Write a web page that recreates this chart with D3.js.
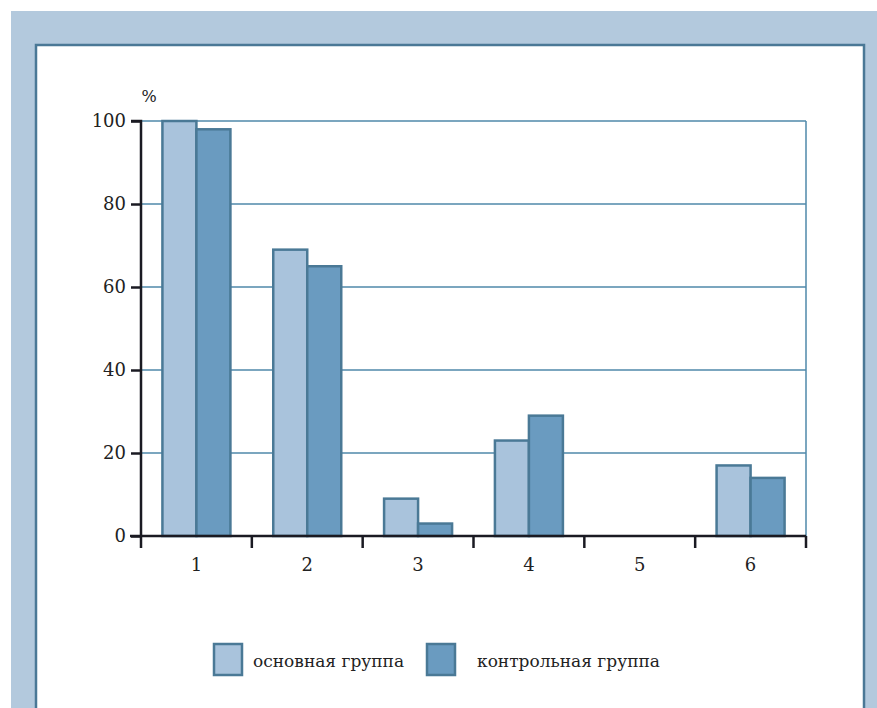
<!DOCTYPE html>
<html><head><meta charset="utf-8">
<script src="https://cdn.jsdelivr.net/npm/d3@7"></script>
<style>body{margin:0;background:#fff}svg{display:block}</style>
</head><body>
<script>
const categories = ["1","2","3","4","5","6"];
const seriesNames = ["основная группа","контрольная группа"];
const mainGroup = [100, 69, 9, 23, 0, 17];
const controlGroup = [98, 65, 3, 29, 0, 14];
const yTicks = [0,20,40,60,80,100];
const unitLabel = "%";

(function(){
const W=877,H=708;
const svg=d3.select("body").append("svg").attr("width",W).attr("height",H);
const font="DejaVu Serif";
const colLight="#a9c3dc", colDark="#6a9bc0", stroke="#4a7996", grid="#4f89aa";

svg.append("rect").attr("x",11).attr("y",11).attr("width",W-11).attr("height",H-11).attr("fill","#b3c9dd");
svg.append("rect").attr("x",36).attr("y",45).attr("width",828).attr("height",H).attr("fill","#fff").attr("stroke","#4a7896").attr("stroke-width",2.5);

const pL=141,pR=806,pT=121,pB=536;
const y=d3.scaleLinear().domain([0,100]).range([pB,pT]);
const x0=d3.scaleBand().domain(categories).range([pL,pR]).padding(0);
const x1=d3.scaleBand().domain(seriesNames).range([0,x0.bandwidth()]).paddingInner(0).paddingOuter(0.63);

// grid
svg.append("g").selectAll("line").data(yTicks.filter(d=>d>0)).join("line")
 .attr("x1",pL).attr("x2",pR).attr("y1",d=>y(d)).attr("y2",d=>y(d))
 .attr("stroke",grid).attr("stroke-width",1.5);
svg.append("line").attr("x1",pR).attr("x2",pR).attr("y1",y(100)).attr("y2",y(0)).attr("stroke",grid).attr("stroke-width",1.5);

// bars
const data=categories.map((c,i)=>({c,vals:[mainGroup[i],controlGroup[i]]}));
const g=svg.append("g").selectAll("g").data(data).join("g").attr("transform",d=>`translate(${x0(d.c)},0)`);
g.selectAll("rect").data(d=>d.vals.map((v,j)=>({v,s:seriesNames[j],j})).filter(d=>d.v>0)).join("rect")
 .attr("x",d=>x1(d.s)).attr("width",x1.bandwidth())
 .attr("y",d=>y(d.v)).attr("height",d=>y(0)-y(d.v))
 .attr("fill",d=>d.j===0?colLight:colDark).attr("stroke",stroke).attr("stroke-width",2.5);

// y axis
const yAxis=d3.axisLeft(y).tickValues(yTicks).tickSize(10).tickPadding(5);
const ya=svg.append("g").attr("transform",`translate(${pL},0)`).call(yAxis);
ya.select(".domain").attr("stroke","#1a1a22").attr("stroke-width",2.5).attr("d",`M-10,${pT}H0V${pB}`);
ya.selectAll(".tick line").attr("stroke","#1a1a22").attr("stroke-width",2.5);
ya.selectAll("text").attr("font-family",font).attr("font-size",18).attr("fill","#222");

// x axis
const xt=d3.scaleLinear().domain([0,6]).range([pL,pR]);
const xa=svg.append("g").attr("transform",`translate(0,${pB})`);
xa.append("line").attr("x1",pL-11).attr("x2",pR).attr("y1",0).attr("y2",0).attr("stroke","#1a1a22").attr("stroke-width",2.5);
xa.selectAll("line.t").data(d3.range(7)).join("line").attr("class","t")
 .attr("x1",d=>xt(d)).attr("x2",d=>xt(d)).attr("y1",0).attr("y2",12).attr("stroke","#1a1a22").attr("stroke-width",2.5);
xa.selectAll("text").data(categories).join("text")
 .attr("x",d=>x0(d)+x0.bandwidth()/2).attr("y",35).attr("text-anchor","middle")
 .attr("font-family",font).attr("font-size",18).attr("fill","#222").text(d=>d);

svg.append("text").attr("x",149).attr("y",102).attr("text-anchor","middle").attr("font-family",font).attr("font-size",16).attr("fill","#222").text(unitLabel);

// legend
const legX=[214,427], legTX=[253,477];
seriesNames.forEach((s,i)=>{
 svg.append("rect").attr("x",legX[i]).attr("y",644).attr("width",28).attr("height",31)
  .attr("fill",i===0?colLight:colDark).attr("stroke",stroke).attr("stroke-width",2.5);
 svg.append("text").attr("x",legTX[i]).attr("y",667).attr("font-family",font).attr("font-size",17).attr("fill","#222").text(s);
});
})();
</script>
</body></html>
